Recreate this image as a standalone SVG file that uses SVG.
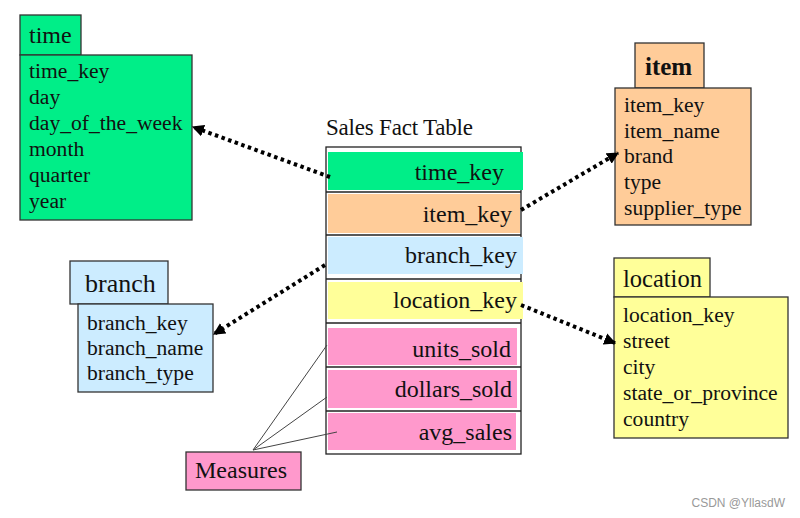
<svg xmlns="http://www.w3.org/2000/svg" width="800" height="518" viewBox="0 0 800 518">
<style>
.b{stroke:#333;stroke-width:1.3}
.f{stroke:#222;stroke-width:1.3;fill:none}
.it{font-size:21.6px}
.fk{font-size:24px;text-anchor:end}
.dot{stroke:#000;stroke-width:4;stroke-dasharray:3.5 3.5;fill:none}
.thin{stroke:#444;stroke-width:1;fill:none}
.g{fill:#00EE88}.o{fill:#FFCC99}.bl{fill:#CCECFF}.y{fill:#FFFF99}.p{fill:#FF99CC}
.wm{fill:#999;font-size:12px;text-anchor:end}
</style>
<defs>
<marker id="ah" viewBox="0 0 10 10" refX="9" refY="5" markerWidth="3" markerHeight="3" orient="auto" markerUnits="strokeWidth">
<path d="M0,0 L10,5 L0,10 z" fill="#000"/>
</marker>
</defs>
<rect width="800" height="518" fill="#fff"/>

<g id="time" font-family="Liberation Serif" fill="#111">
<rect class="g b" x="20" y="15" width="61" height="40"/>
<rect class="g b" x="20" y="55" width="172" height="165"/>
<text x="29" y="43" font-size="24">time</text>
<text class="it" x="29" y="78">time_key</text>
<text class="it" x="29" y="104">day</text>
<text class="it" x="29" y="130">day_of_the_week</text>
<text class="it" x="29" y="156">month</text>
<text class="it" x="29" y="182">quarter</text>
<text class="it" x="29" y="208">year</text>
</g>

<g id="item" font-family="Liberation Serif" fill="#111">
<rect class="o b" x="635" y="43" width="69" height="45"/>
<rect class="o b" x="615" y="88" width="136" height="137"/>
<text x="645" y="75" font-size="25" font-weight="bold">item</text>
<text class="it" x="624" y="112">item_key</text>
<text class="it" x="624" y="138">item_name</text>
<text class="it" x="624" y="163">brand</text>
<text class="it" x="624" y="189">type</text>
<text class="it" x="624" y="215">supplier_type</text>
</g>

<g id="branch" font-family="Liberation Serif" fill="#111">
<rect class="bl b" x="70" y="261" width="98" height="43"/>
<rect class="bl b" x="78" y="304" width="135" height="88"/>
<text x="85" y="292" font-size="26">branch</text>
<text class="it" x="87" y="330">branch_key</text>
<text class="it" x="87" y="355">branch_name</text>
<text class="it" x="87" y="380">branch_type</text>
</g>

<g id="location" font-family="Liberation Serif" fill="#111">
<rect class="y b" x="614" y="258" width="96" height="39"/>
<rect class="y b" x="614" y="297" width="174" height="141"/>
<text x="623" y="287" font-size="24.5">location</text>
<text class="it" x="623" y="322">location_key</text>
<text class="it" x="623" y="348">street</text>
<text class="it" x="623" y="374">city</text>
<text class="it" x="623" y="400">state_or_province</text>
<text class="it" x="623" y="426">country</text>
</g>

<g id="fact" font-family="Liberation Serif" fill="#111">
<text x="326" y="135" font-size="23" letter-spacing="-0.2">Sales Fact Table</text>
<rect class="f" x="326" y="147" width="195" height="307" fill="#fff"/>
<rect class="g" x="328" y="152" width="195" height="38"/>
<line class="f" x1="326" y1="192" x2="521" y2="192"/>
<rect class="o" x="328" y="194" width="192" height="39"/>
<line class="f" x1="326" y1="235" x2="521" y2="235"/>
<rect class="bl" x="328" y="237" width="195" height="37"/>
<line class="f" x1="326" y1="279" x2="521" y2="279"/>
<rect class="y" x="328" y="282" width="195" height="37"/>
<line class="f" x1="326" y1="323" x2="521" y2="323"/>
<rect class="p" x="328" y="328" width="189" height="37"/>
<line class="f" x1="326" y1="367" x2="521" y2="367"/>
<rect class="p" x="328" y="370" width="189" height="38"/>
<line class="f" x1="326" y1="411" x2="521" y2="411"/>
<rect class="p" x="328" y="413" width="188" height="37"/>
<text class="fk" x="504" y="180">time_key</text>
<text class="fk" x="512" y="222">item_key</text>
<text class="fk" x="517" y="263">branch_key</text>
<text class="fk" x="517" y="308">location_key</text>
<text class="fk" x="511" y="357">units_sold</text>
<text class="fk" x="512" y="397">dollars_sold</text>
<text class="fk" x="512" y="440">avg_sales</text>
</g>

<g id="measures" font-family="Liberation Serif" fill="#111">
<rect class="p b" x="186" y="452" width="115" height="38"/>
<text x="195" y="478" font-size="24">Measures</text>
</g>

<g id="connectors">
<line class="dot" x1="330" y1="177" x2="193" y2="127" marker-end="url(#ah)"/>
<line class="dot" x1="521" y1="210" x2="618" y2="153" marker-end="url(#ah)"/>
<line class="dot" x1="325" y1="265" x2="214" y2="334" marker-end="url(#ah)"/>
<line class="dot" x1="521" y1="305" x2="615" y2="343" marker-end="url(#ah)"/>
<line class="thin" x1="253" y1="450" x2="327" y2="345"/>
<line class="thin" x1="253" y1="450" x2="327" y2="397"/>
<line class="thin" x1="253" y1="450" x2="337" y2="432"/>
</g>

<text class="wm" x="785" y="507" font-family="Liberation Sans">CSDN @YllasdW</text>
</svg>
